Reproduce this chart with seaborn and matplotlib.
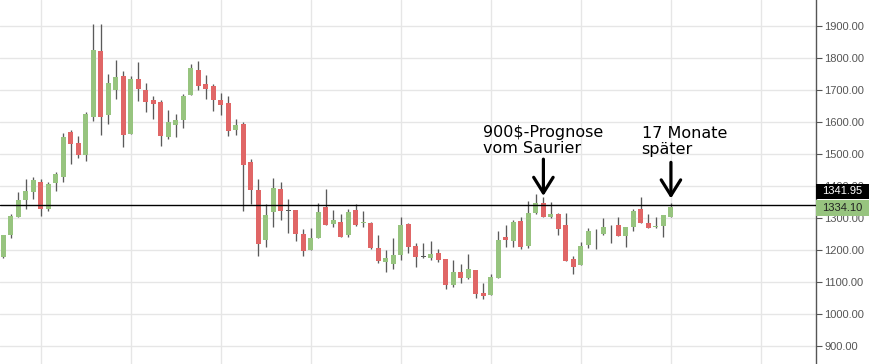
import matplotlib
matplotlib.use("Agg")
import matplotlib.pyplot as plt
from matplotlib.patches import Rectangle
import numpy as np
import pandas as pd
import seaborn as sns

# ---- data (monthly gold candles, Aug 2010 .. Jan 2018) ----
opens = [1179, 1247, 1304, 1356, 1382, 1412, 1328, 1409, 1429, 1569,
         1535, 1498, 1617, 1823, 1622, 1702, 1744, 1564, 1735, 1699,
         1669, 1663, 1554, 1592, 1608, 1686, 1763, 1719, 1713, 1669,
         1659, 1576, 1594, 1475, 1387, 1232, 1320, 1391, 1323, 1325,
         1250, 1201, 1238, 1334, 1282, 1287, 1246, 1325, 1283, 1285,
         1206, 1162, 1157, 1183, 1281, 1212, 1179, 1176, 1190, 1171,
         1090, 1130, 1113, 1137, 1065, 1060, 1113, 1240, 1229, 1290,
         1212, 1317, 1348, 1302, 1312, 1277, 1170, 1153, 1216, 1248.5,
         1251, 1268, 1277, 1245, 1272, 1328, 1285, 1271, 1276, 1302]
highs = [1248, 1312, 1381, 1422, 1428, 1422, 1413, 1445, 1566, 1576,
         1557, 1631, 1907, 1907, 1751, 1795, 1760, 1744, 1788, 1724,
         1682, 1669, 1638, 1625, 1688, 1783, 1791, 1748, 1719, 1690,
         1682, 1610, 1599, 1485, 1422, 1343, 1425, 1413, 1359, 1325,
         1265, 1268, 1346, 1391, 1325, 1312, 1327, 1343, 1322, 1286,
         1247, 1200, 1236, 1303, 1285, 1221, 1221, 1229, 1204, 1171,
         1168, 1155, 1187, 1137, 1095, 1123, 1260, 1277, 1294, 1302,
         1353, 1374, 1365, 1349, 1316, 1316, 1181, 1224, 1267, 1265,
         1300, 1278, 1303, 1272, 1329, 1366, 1313, 1304, 1310, 1346]
lows = [1175, 1238, 1302, 1327, 1360, 1307, 1323, 1385, 1413, 1470,
        1489, 1479, 1605, 1561, 1595, 1672, 1523, 1563, 1666, 1633,
        1610, 1526, 1546, 1554, 1583, 1686, 1699, 1672, 1636, 1622,
        1556, 1560, 1323, 1343, 1182, 1210, 1273, 1292, 1254, 1229,
        1182, 1201, 1238, 1279, 1273, 1239, 1241, 1274, 1273, 1203,
        1160, 1132, 1141, 1168, 1191, 1145, 1174, 1168, 1162, 1079,
        1083, 1097, 1108, 1050, 1046, 1060, 1113, 1210, 1210, 1203,
        1205, 1313, 1303, 1301, 1247, 1165, 1123, 1152, 1207, 1202,
        1247, 1223, 1244, 1210, 1258, 1283, 1268, 1268, 1239, 1302]
closes = [1247, 1306, 1356, 1384, 1419, 1329, 1407, 1439, 1554, 1533,
          1497, 1624, 1825, 1617, 1723, 1741, 1561, 1734, 1704, 1664,
          1658, 1558, 1600, 1607, 1682, 1769, 1714, 1705, 1670, 1655,
          1573, 1591, 1467, 1389, 1219, 1309, 1394, 1323, 1323, 1249,
          1198, 1237, 1319, 1279, 1294, 1241, 1319, 1278, 1286, 1205,
          1166, 1176, 1183, 1278, 1210, 1179, 1179, 1187, 1168, 1090,
          1130, 1113, 1140, 1062, 1056, 1115, 1231, 1232, 1287, 1210,
          1317, 1348, 1303, 1313, 1266, 1166, 1147, 1211, 1260, 1249,
          1271, 1268.5, 1244, 1271, 1322, 1284, 1270, 1274, 1309, 1334.1]
months = pd.date_range("2010-08-01", periods=len(opens), freq="MS")
ref_level = 1341.95
last_price = 1334.10
y_ticks = [900, 1000, 1100, 1200, 1300, 1400, 1500, 1600, 1700, 1800, 1900]
notes = ["900$-Prognose\nvom Saurier", "17 Monate\nspäter"]
note_months = ["2016-08-01", "2018-01-01"]

df = pd.DataFrame({"month": months, "open": opens, "high": highs,
                   "low": lows, "close": closes})
df["i"] = np.arange(len(df))

sns.set_theme(style="white")
plt.rcParams["font.family"] = ["DejaVu Sans"]

W, H = 870, 364
fig = plt.figure(figsize=(W / 100, H / 100), dpi=100)
ax = fig.add_axes([0, 0, 815.7 / W, 1])
ax.set_facecolor("white")

GREEN = "#97c47f"
RED = "#e06666"
WICK = "#5a5a5a"

# wicks
ax.vlines(df["i"], df["low"], df["high"], color=WICK, lw=0.95, zorder=2)
# bodies
diff = df["close"] - df["open"]
colors = np.where(diff > 0, GREEN, np.where(diff < 0, RED, WICK))
heights = np.where(diff == 0, 2.5, diff.abs())
bottoms = np.where(diff == 0, df["open"] - 1.25, np.minimum(df["open"], df["close"]))
ax.bar(df["i"], heights, bottom=bottoms, width=0.67, color=colors,
       edgecolor="none", linewidth=0, zorder=3)

# reference line
ax.axhline(ref_level, color="black", lw=1.0, zorder=4)

# axes setup
ax.set_xlim(-0.44, 108.3)
ax.set_ylim(842.7, 1982.3)
jan_idx = [k for k in range(0, 109) if (k + 7) % 12 == 0]
ax.set_xticks(jan_idx)
ax.set_xticklabels([])
ax.tick_params(axis="x", length=0)
ax.yaxis.tick_right()
ax.set_yticks(y_ticks)
ax.set_yticklabels([f"{v:.2f}" for v in y_ticks])
ax.tick_params(axis="y", which="both", right=True, left=False, length=4,
               width=0.8, color="#555555", pad=2, labelsize=8,
               labelcolor="#555555")
for lab in ax.get_yticklabels():
    lab.set_family(["Liberation Sans", "DejaVu Sans"])
ax.grid(True, color="#e6e6e6", lw=1.0, zorder=0)
ax.set_axisbelow(True)
for s in ["top", "left", "bottom"]:
    ax.spines[s].set_visible(False)
ax.spines["right"].set_color("#555555")
ax.spines["right"].set_linewidth(1.0)

# annotations
pos = {m: k for k, m in enumerate(months.strftime("%Y-%m-%d"))}
text_x = [64.0, 85.1]
text_y = [[1554, 1502], [1550, 1499]]
arrow_top = [1484, 1474]
arrow_tip = [1369, 1361]
for n, (note, m) in enumerate(zip(notes, note_months)):
    lines = note.split("\n")
    for ln, yy in zip(lines, text_y[n]):
        ax.text(text_x[n], yy, ln, fontsize=11.5, color="black",
                va="baseline", ha="left", zorder=6)
    xi = pos[m]
    ax.annotate("", xy=(xi, arrow_tip[n]), xytext=(xi, arrow_top[n]),
                arrowprops=dict(arrowstyle="->,head_length=0.8,head_width=0.5",
                                mutation_scale=14, lw=2.3, color="black",
                                shrinkA=0, shrinkB=0), zorder=6)

# price tags on the right axis
def tag(y0, y1, bg, fg, txt):
    fig.add_artist(Rectangle((815.7 / W, 1 - y1 / H), (W - 815.7) / W,
                             (y1 - y0) / H, transform=fig.transFigure,
                             facecolor=bg, edgecolor="none", zorder=10))
    fig.text(822 / W, 1 - (y0 + y1) / 2 / H, txt, color=fg, fontsize=8,
             va="center", ha="left", family=["Liberation Sans", "DejaVu Sans"],
             zorder=11)

tag(184, 199, "black", "white", f"{ref_level:.2f}")
tag(200, 216, GREEN, "#222222", f"{last_price:.2f}")

fig.savefig("out.png", dpi=100)
